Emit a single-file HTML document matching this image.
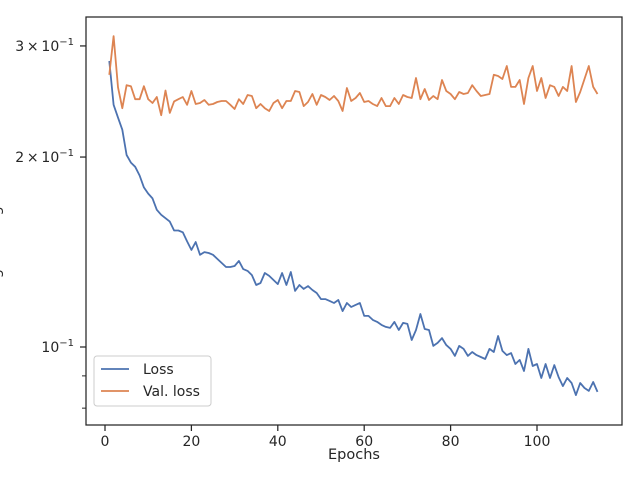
<!DOCTYPE html>
<html><head><meta charset="utf-8"><style>
body{margin:0;background:#fff;}
svg text{font-family:"DejaVu Sans","Liberation Sans",sans-serif;fill:#262626;}
</style></head><body>
<svg id="chart" width="640" height="480" xmlns="http://www.w3.org/2000/svg">
<rect width="640" height="480" fill="#fff"/>
<g id="plot"></g>
<rect x="86" y="17" width="536" height="408" fill="none" stroke="#262626" stroke-width="1.25"/>
<g id="axes"></g>
<text x="354" y="459" font-size="14.5" text-anchor="middle">Epochs</text>
<text transform="translate(0,215) rotate(-90)" font-size="14.5" text-anchor="middle">Negative log-likelihood</text>
<g>
<rect x="94" y="356" width="117" height="50" rx="3" fill="#fff" fill-opacity="0.8" stroke="#ccc"/>
<line x1="101" y1="369" x2="129" y2="369" stroke="#4c72b0" stroke-width="1.8"/>
<text x="143" y="374" font-size="14">Loss</text>
<line x1="101" y1="391" x2="129" y2="391" stroke="#dd8452" stroke-width="1.8"/>
<text x="143" y="396" font-size="14">Val. loss</text>
</g>
</svg>
<script>
const lossValues=[.284,.242,.231,.221,.2015,.196,.193,.187,.179,.175,.172,.165,.162,.160,.158,.153,.153,.152,.147,.1425,.1467,.140,.1414,.1409,.140,.1379,.1359,.1339,.1339,.1344,.1369,.1329,.132,.130,.1254,.1263,.131,.1296,.1277,.1258,.131,.1254,.1315,.1227,.1254,.1236,.1249,.1231,.1218,.1191,.1191,.1183,.1174,.1187,.114,.1174,.1157,.1166,.1174,.112,.112,.1104,.1096,.1084,.1076,.1072,.1096,.1064,.1092,.1088,.1026,.1064,.1128,.1068,.1064,.1004,.1015,.1033,.1007,.0993,.0968,.1004,.0993,.0968,.0982,.0971,.0964,.0957,.0993,.0982,.1041,.0986,.0971,.0978,.094,.0954,.0916,.0993,.0933,.094,.0893,.094,.0893,.0936,.0896,.0867,.0893,.0877,.0839,.0877,.0861,.0852,.088,.0849];
const valLossValues=[.270,.311,.258,.239,.260,.259,.247,.247,.259,.247,.2436,.249,.233,.255,.235,.245,.247,.249,.242,.2545,.2427,.2436,.2463,.242,.2427,.2445,.2454,.2454,.242,.2383,.247,.2427,.2508,.2499,.239,.2427,.239,.2366,.2436,.2463,.239,.2454,.2454,.2545,.2536,.2409,.2445,.2517,.242,.2508,.249,.2463,.2499,.2454,.2366,.2573,.2454,.2481,.2527,.2445,.2454,.2427,.2409,.2481,.2409,.2409,.2481,.2427,.2508,.249,.2481,.2669,.247,.2564,.2463,.2499,.247,.2649,.2545,.2517,.247,.2536,.2517,.2527,.260,.2545,.2499,.2508,.2517,.270,.2688,.2659,.2788,.2583,.2583,.2649,.2427,.2669,.2788,.2545,.2669,.2481,.260,.2583,.2499,.2583,.2545,.2788,.2445,.2536,.2659,.2788,.2583,.2517];
const xTicks=[0,20,40,60,80,100];
const yMajorTicks=[0.3,0.2,0.1];
const yMajorLabels=["3","2",""];
const yMinorTicks=[0.09,0.08];
const NS="http://www.w3.org/2000/svg";
function xScale(e){return 105+(e-0)*4.32;}
function yScale(v){return 347-Math.log10(v/0.1)*631;}
function mk(tag,attrs,parent){const el=document.createElementNS(NS,tag);for(const k in attrs)el.setAttribute(k,attrs[k]);parent.appendChild(el);return el;}
const plot=document.getElementById('plot');
const axes=document.getElementById('axes');
function series(vals,color,name){
  const d=vals.map((v,i)=>(i?'L':'M')+xScale(i+1).toFixed(1)+','+yScale(v).toFixed(1)).join('');
  const p=mk('path',{d:d,fill:'none',stroke:color,'stroke-width':1.8,'stroke-linejoin':'round'},plot);
  
  
}
series(lossValues,'#4c72b0','loss-line');
series(valLossValues,'#dd8452','val-loss-line');
xTicks.forEach(t=>{
  const x=xScale(t);
  const l=mk('line',{x1:x,y1:425,x2:x,y2:431,stroke:'#262626','stroke-width':1.25},axes);
  
  
  const tx=mk('text',{x:x,y:446,'font-size':14,'text-anchor':'middle'},axes);
  tx.textContent=String(t);
  
  
});
yMajorTicks.forEach((t,i)=>{
  const y=yScale(t);
  const l=mk('line',{x1:80,y1:y,x2:86,y2:y,stroke:'#262626','stroke-width':1.25},axes);
  
  
  const tx=mk('text',{x:74,y:y+5,'font-size':14,'text-anchor':'end'},axes);
  
  
  const pre=yMajorLabels[i]?yMajorLabels[i]+'\u2009\u00d7\u200910':'10';
  tx.textContent=pre;
  const sup=mk('tspan',{dy:-6,'font-size':10},tx);
  sup.textContent='\u22121';
});
yMinorTicks.forEach(t=>{
  const y=yScale(t);
  const l=mk('line',{x1:82,y1:y,x2:86,y2:y,stroke:'#262626','stroke-width':1},axes);
  
  
});
</script>
</body></html>
